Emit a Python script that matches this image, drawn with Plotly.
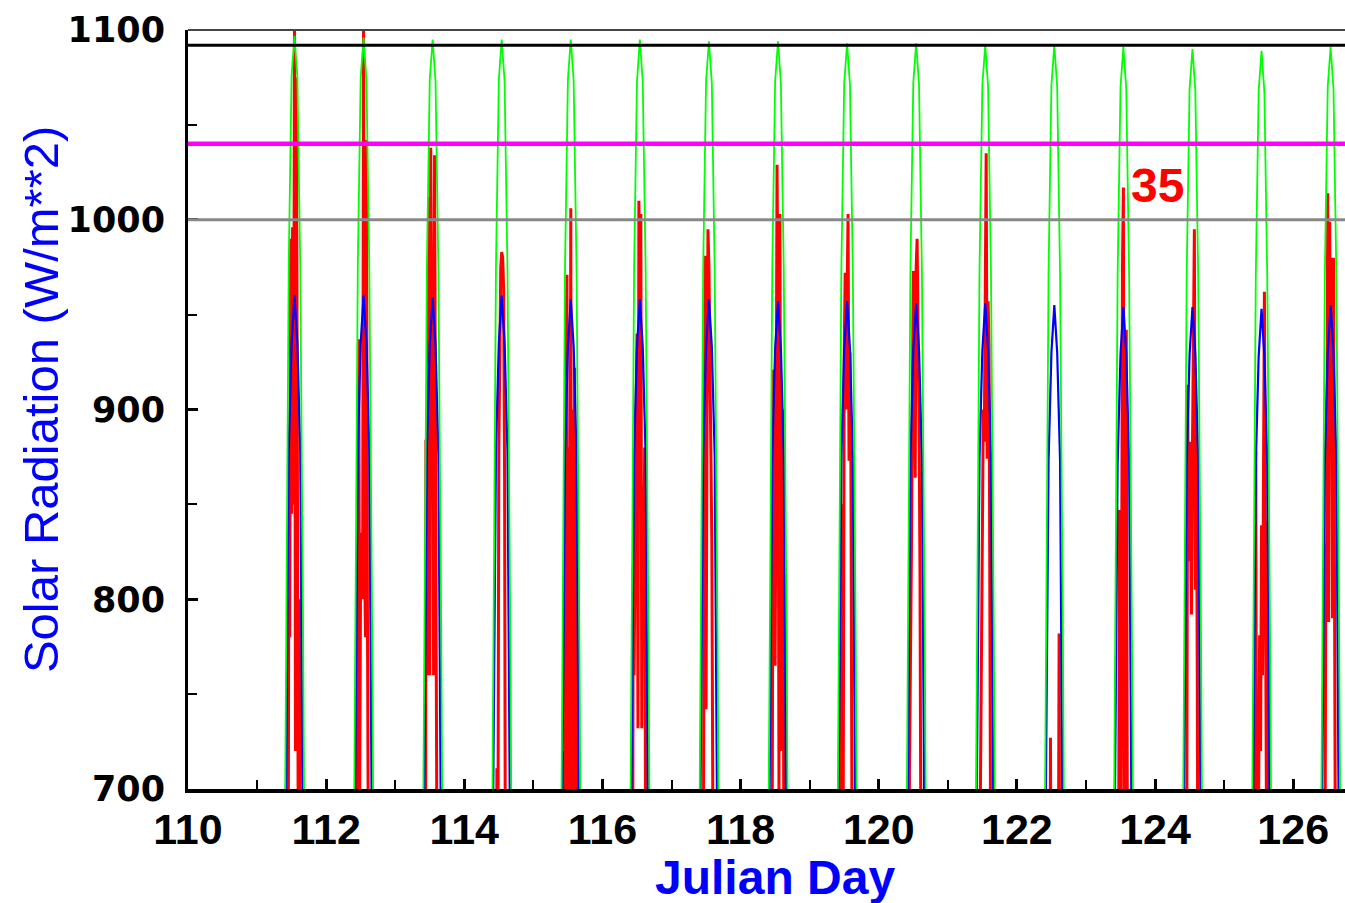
import plotly.graph_objects as go

# ---------------- data ----------------
DAYS = [111, 112, 113, 114, 115, 116, 117, 118, 119, 120, 121, 122, 123, 124, 125, 126]

# hourly clear-sky model (green), UTC hours of each day
GREEN_HOURS = [9, 10, 11, 12, 13, 14, 15, 16, 17]
GREEN_VALUES = [
    [522, 782, 977, 1076, 1097, 1075, 976, 781, 520],
    [521, 781, 976, 1075, 1096, 1074, 975, 780, 519],
    [520, 780, 975, 1074, 1095, 1073, 974, 779, 518],
    [520, 780, 975, 1074, 1095, 1073, 974, 779, 518],
    [520, 780, 975, 1074, 1095, 1073, 974, 779, 518],
    [519, 779, 975, 1073, 1095, 1073, 974, 778, 518],
    [519, 779, 974, 1073, 1094, 1072, 973, 778, 517],
    [519, 779, 974, 1073, 1094, 1072, 973, 778, 517],
    [518, 778, 973, 1072, 1093, 1071, 972, 777, 516],
    [518, 778, 973, 1072, 1093, 1071, 972, 777, 516],
    [517, 777, 972, 1071, 1092, 1070, 971, 776, 515],
    [517, 777, 972, 1071, 1092, 1070, 971, 776, 515],
    [516, 776, 971, 1070, 1091, 1069, 970, 775, 514],
    [516, 776, 971, 1069, 1090, 1068, 969, 774, 514],
    [515, 775, 970, 1068, 1089, 1067, 968, 773, 513],
    [516, 776, 971, 1070, 1091, 1069, 970, 775, 514],
]

# hourly second model (blue)
BLUE_HOURS = [9, 10, 11, 12, 13, 14, 15, 16, 17]
BLUE_VALUES = [
    [420, 690, 878, 935, 960, 935, 878, 690, 420],
    [420, 690, 878, 935, 960, 935, 878, 690, 420],
    [419, 689, 877, 934, 959, 934, 877, 689, 419],
    [420, 690, 878, 935, 960, 935, 878, 690, 420],
    [418, 688, 876, 933, 958, 933, 876, 688, 418],
    [418, 688, 876, 933, 958, 933, 876, 688, 418],
    [418, 688, 876, 933, 958, 933, 876, 688, 418],
    [417, 687, 875, 932, 957, 932, 875, 687, 417],
    [417, 687, 875, 932, 957, 932, 875, 687, 417],
    [416, 686, 874, 931, 956, 931, 874, 686, 416],
    [416, 686, 874, 931, 956, 931, 874, 686, 416],
    [415, 685, 873, 930, 955, 930, 873, 685, 415],
    [414, 684, 872, 929, 954, 929, 872, 684, 414],
    [414, 684, 872, 929, 954, 929, 872, 684, 414],
    [413, 683, 871, 928, 953, 928, 871, 683, 413],
    [415, 685, 873, 930, 955, 930, 873, 685, 415],
]

# measured radiation (red), 20-minute samples, UTC hours
RED_HOURS = [10.0, 10.333, 10.667, 11.0, 11.333, 11.667, 12.0, 12.333, 12.667, 13.0,
             13.333, 13.667, 14.0, 14.333, 14.667, 15.0, 15.333, 15.667, 16.0]
RED_VALUES = [
    [0, 300, 500, 800, 780, 990, 845, 996, 850, 1110, 720, 1075, 880, 640, 800, 600, 300, 200, 100],
    [0, 400, 650, 760, 937, 700, 830, 835, 800, 1110, 820, 780, 1042, 800, 760, 720, 600, 300, 100],
    [0, 200, 884, 760, 890, 1012, 760, 1038, 960, 939, 760, 1034, 880, 650, 300, 200, 100, 50, 0],
    [0, 100, 300, 500, 711, 650, 880, 930, 975, 983, 980, 964, 862, 600, 400, 300, 200, 100, 0],
    [0, 300, 720, 600, 936, 971, 650, 880, 700, 1006, 620, 900, 700, 922, 680, 860, 500, 200, 0],
    [0, 300, 817, 760, 860, 900, 940, 732, 1010, 960, 1003, 732, 860, 800, 880, 732, 400, 100, 0],
    [0, 200, 500, 742, 826, 981, 742, 890, 995, 975, 930, 860, 830, 700, 500, 300, 100, 0, 0],
    [0, 200, 500, 700, 921, 840, 765, 880, 1029, 950, 700, 1003, 760, 720, 900, 680, 760, 813, 200],
    [0, 100, 400, 808, 850, 700, 930, 972, 900, 960, 1003, 873, 930, 870, 817, 777, 500, 200, 0],
    [0, 200, 709, 750, 820, 900, 973, 930, 864, 975, 990, 940, 900, 813, 760, 600, 300, 100, 0],
    [0, 100, 300, 500, 700, 760, 820, 900, 883, 995, 1035, 874, 957, 933, 800, 600, 300, 100, 0],
    [0, 100, 200, 300, 400, 727, 400, 300, 200, 350, 300, 250, 400, 600, 782, 300, 100, 0, 0],
    [0, 100, 200, 400, 650, 847, 600, 760, 973, 1017, 700, 650, 942, 600, 300, 100, 0, 0, 0],
    [0, 100, 300, 650, 913, 820, 883, 840, 792, 880, 940, 995, 805, 900, 760, 500, 200, 0, 0],
    [0, 100, 300, 878, 600, 650, 700, 781, 720, 839, 760, 923, 962, 820, 700, 760, 841, 300, 0],
    [0, 200, 500, 700, 820, 831, 1014, 788, 999, 900, 980, 790, 980, 820, 600, 300, 100, 0, 0],
]

REF_LINES = [1092, 1040, 1000]
X_TICKS = [110, 112, 114, 116, 118, 120, 122, 124, 126]
Y_TICKS = [700, 800, 900, 1000, 1100]
LABEL_TEXT = "35"
LABEL_POS = (124.04, 1018)


def build(hours, values):
    xs, ys = [], []
    for day, vals in zip(DAYS, values):
        for h, v in zip(hours, vals):
            xs.append(day + h / 24.0)
            ys.append(v)
        xs.append(None)
        ys.append(None)
    return xs, ys


fig = go.Figure()
rx, ry = build(RED_HOURS, RED_VALUES)
fig.add_trace(go.Scatter(x=rx, y=ry, mode="lines", line=dict(color="#FF0000", width=3)))
bx, by = build(BLUE_HOURS, BLUE_VALUES)
fig.add_trace(go.Scatter(x=bx, y=by, mode="lines", line=dict(color="#0000FF", width=2.2)))
gx, gy = build(GREEN_HOURS, GREEN_VALUES)
fig.add_trace(go.Scatter(x=gx, y=gy, mode="lines", line=dict(color="#00FF00", width=1.8)))

# reference lines
line_styles = [("#000000", 3), ("#FF00FF", 4.5), ("#888888", 3)]
for yv, (col, w) in zip(REF_LINES, line_styles):
    fig.add_shape(type="line", xref="paper", x0=0, x1=1, yref="y", y0=yv, y1=yv,
                  line=dict(color=col, width=w), layer="above")
# top frame line
fig.add_shape(type="line", xref="paper", x0=0, x1=1, yref="paper", y0=1, y1=1,
              line=dict(color="#444444", width=2), layer="above")

fig.add_annotation(x=LABEL_POS[0], y=LABEL_POS[1], xref="x", yref="y", text=LABEL_TEXT,
                   showarrow=False,
                   font=dict(family="Liberation Sans", size=48, color="#FF0000", weight="bold"))

fig.add_annotation(x=-0.127, y=0.5125, xref="paper", yref="paper",
                   text="Solar Radiation (W/m**2)", textangle=-90, showarrow=False,
                   xanchor="center", yanchor="middle",
                   font=dict(family="Liberation Sans", size=49, color="#0000FF"))
fig.add_annotation(x=0.507, y=-0.117, xref="paper", yref="paper",
                   text="Julian Day", showarrow=False, xanchor="center", yanchor="middle",
                   font=dict(family="Liberation Sans", size=48, color="#0000FF", weight="bold"))

fig.update_layout(
    width=1345, height=903,
    margin=dict(l=188, r=0, t=30, b=114, autoexpand=False),
    plot_bgcolor="white", paper_bgcolor="white",
    showlegend=False,
    xaxis=dict(range=[110, 126.75], tickvals=X_TICKS, ticks="inside", ticklen=10,
               tickwidth=2.5, tickcolor="black", showline=True, linewidth=3.5,
               linecolor="black", showgrid=False, zeroline=False, automargin=False,
               ticklabelstandoff=0,
               tickfont=dict(family="Liberation Sans", size=43, color="black", weight="bold"),
               minor=dict(dtick=1, tick0=110, ticks="inside", ticklen=9, tickwidth=2,
                          tickcolor="black", showgrid=False)),
    yaxis=dict(range=[700, 1100], tickvals=Y_TICKS, ticks="inside", ticklen=10,
               tickwidth=2.5, tickcolor="black", showline=True, linewidth=3,
               linecolor="black", showgrid=False, zeroline=False, automargin=False,
               ticklabelstandoff=13,
               tickfont=dict(family="DejaVu Sans", size=35, color="black", weight="bold"),
               minor=dict(dtick=50, tick0=700, ticks="inside", ticklen=9, tickwidth=2,
                          tickcolor="black", showgrid=False)),
)

fig.write_html("out.html", config={"displayModeBar": False},
               post_script="document.body.style.margin='0';document.body.style.overflow='hidden';")
